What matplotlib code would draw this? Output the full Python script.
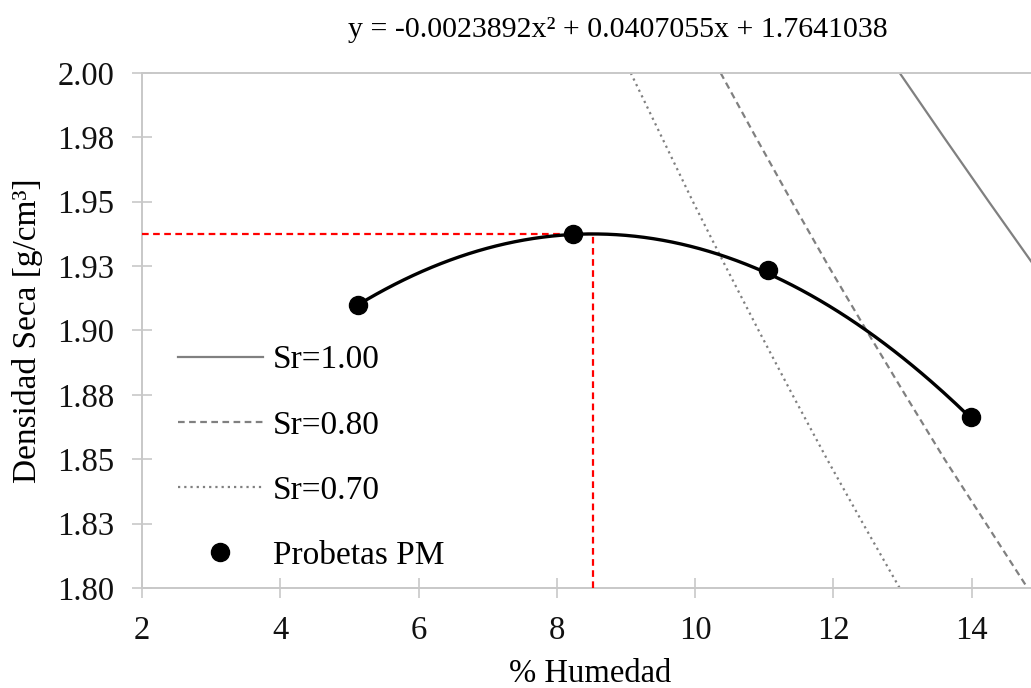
import numpy as np
import matplotlib
matplotlib.use("Agg")
import matplotlib.pyplot as plt

plt.rcParams['font.family'] = ['Liberation Serif', 'DejaVu Serif']

# Compaction test specimens
humedad = [5.12, 8.23, 11.06, 13.99]
densidad = [1.9100, 1.9374, 1.9233, 1.8663]

# Fitted parabola coefficients
a2, a1, a0 = -0.0023892, 0.0407055, 1.7641038

# Saturation lines (moisture % at each dry density)
sr_density = [2.000, 1.975, 1.950, 1.925, 1.900, 1.875, 1.850, 1.825, 1.800]
sr100_w = [12.96, 13.60, 14.25, 14.91, 15.60, 16.30, 17.02, 17.76, 18.52]
sr080_w = [10.37, 10.88, 11.40, 11.93, 12.48, 13.04, 13.61, 14.21, 14.81]
sr070_w = [9.07, 9.52, 9.97, 10.44, 10.92, 11.41, 11.91, 12.43, 12.96]

y_ticks = [1.800, 1.825, 1.850, 1.875, 1.900, 1.925, 1.950, 1.975, 2.000]
y_tick_labels = ['1.80', '1.83', '1.85', '1.88', '1.90', '1.93', '1.95', '1.98', '2.00']
x_ticks = [2, 4, 6, 8, 10, 12, 14]

fig = plt.figure(figsize=(10.31, 6.88), dpi=100)
ax = fig.add_axes([0.1377, 0.1453, 0.865, 0.7487])

spine_c = '#c8c8c8'
ax.plot(sr100_w, sr_density, color='#808080', lw=1.6, ls='-', label='Sr=1.00')
ax.plot(sr080_w, sr_density, color='#808080', lw=1.6, ls=(0, (3, 2)), label='Sr=0.80')
ax.plot(sr070_w, sr_density, color='#808080', lw=1.6, ls=(0, (1, 1.8)), label='Sr=0.70')

xf = np.linspace(humedad[0], humedad[-1], 200)
ax.plot(xf, a2 * xf**2 + a1 * xf + a0, color='black', lw=2.4, zorder=4)

# Optimum point from the fitted curve
w_opt = -a1 / (2 * a2)
d_max = a0 - a1**2 / (4 * a2)
ax.plot([2, w_opt], [d_max, d_max], color='#ff0000', lw=1.6, ls=(0, (3, 2)), zorder=3)
ax.plot([w_opt, w_opt], [1.80, d_max], color='#ff0000', lw=1.6, ls=(0, (3, 2)), zorder=3)

ax.plot(humedad, densidad, 'o', color='black', ms=13, ls='none', label='Probetas PM', zorder=5)

ax.set_xlim(2, 14.9)
ax.set_ylim(1.80, 2.00)
ax.set_xticks(x_ticks)
ax.set_xticklabels([str(t) for t in x_ticks])
ax.set_yticks(y_ticks)
ax.set_yticklabels(y_tick_labels)
ax.tick_params(axis='both', labelsize=23.5, direction='inout', length=14, width=1.2,
               color=spine_c, pad=13)
for t in ax.get_xticklabels() + ax.get_yticklabels():
    t.set_color('#111111')

ax.spines['right'].set_visible(False)
for s in ['left', 'bottom', 'top']:
    ax.spines[s].set_color(spine_c)
    ax.spines[s].set_linewidth(1.4)

ax.set_xlabel('% Humedad', fontsize=23.5)
ax.set_ylabel('Densidad Seca [g/cm³]', fontsize=24)
ax.yaxis.set_label_coords(-0.111, 0.5)
ax.xaxis.set_label_coords(0.503, -0.136)

fig.text(0.5994, 0.956, 'y = -0.0023892x² + 0.0407055x + 1.7641038', fontsize=21.5,
         ha='center', va='center')

leg = ax.legend(loc='upper left', bbox_to_anchor=(0.025, 0.498), frameon=False,
                fontsize=24, handlelength=2.55, handletextpad=0.3, labelspacing=1.04,
                borderaxespad=0)

fig.savefig('out.png', dpi=100)
